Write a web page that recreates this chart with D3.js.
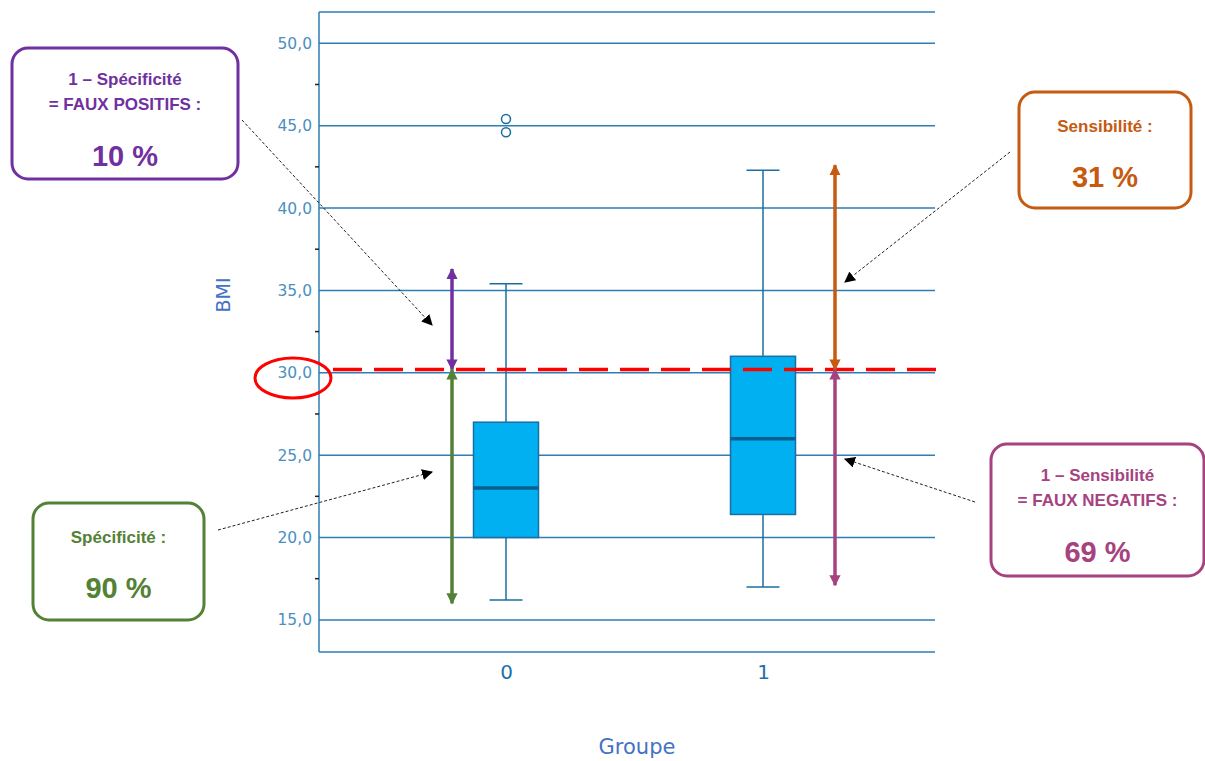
<!DOCTYPE html>
<html><head><meta charset="utf-8">
<script src="https://cdn.jsdelivr.net/npm/d3@7"></script>
<style>body{margin:0;background:#fff}svg{display:block}</style>
</head><body>
<svg id="c" width="1205" height="761"></svg>
<script>
const categories = ["0", "1"];
const whiskerLow = [16.2, 17.0];
const q1 = [20.0, 21.4];
const median = [23.0, 26.0];
const q3 = [27.0, 31.0];
const whiskerHigh = [35.4, 42.3];
const outliers = [[45.4, 44.6], []];
const yTicks = [15, 20, 25, 30, 35, 40, 45, 50];
const yMinor = [17.5, 22.5, 27.5, 32.5, 37.5, 42.5, 47.5];
const threshold = 30.2;
// annotation ranges (BMI values)
const rangeGroup = ["0", "0", "1", "1"];
const rangeFrom = [30.2, 30.2, 30.2, 30.2];
const rangeTo = [36.3, 16.0, 42.6, 17.1];
const rangeColor = ["#7030a0", "#538135", "#c55a11", "#a6427f"];
const boxLine1 = ["1 – Spécificité", "Spécificité :", "Sensibilité :", "1 – Sensibilité"];
const boxLine2 = ["= FAUX POSITIFS :", "", "", "= FAUX NEGATIFS :"];
const boxPct = ["10 %", "90 %", "31 %", "69 %"];

(function () {
const svg = d3.select("#c");
const pL = 319, pR = 935, pT = 12, pB = 652;
const y = d3.scaleLinear().domain([13.05, 51.9]).range([pB, pT]);
const x = d3.scalePoint().domain(categories).range([506, 763]);
const gridColor = "#2e7db3";

// grid lines
svg.append("g").selectAll("line").data(yTicks).join("line")
  .attr("x1", pL).attr("x2", pR).attr("y1", d => y(d)).attr("y2", d => y(d))
  .attr("stroke", gridColor).attr("stroke-width", 1.5);
[pT, pB].forEach(v => svg.append("line").attr("x1", pL).attr("x2", pR)
  .attr("y1", v).attr("y2", v).attr("stroke", gridColor).attr("stroke-width", 1.5));
// y axis
const yAxis = svg.append("g").attr("transform", `translate(${pL},0)`)
  .call(d3.axisLeft(y).tickValues(yTicks).tickSize(0).tickPadding(7)
    .tickFormat(d => d3.format(".1f")(d).replace(".", ",")));
yAxis.select(".domain").attr("stroke", gridColor).attr("stroke-width", 1.5).attr("d", `M0,${pT}V${pB}`);
yAxis.selectAll("text").attr("fill", "#4a8fc2").attr("font-family", "DejaVu Sans, sans-serif").attr("font-size", 15.5);
svg.append("g").selectAll("line").data(yMinor).join("line")
  .attr("x1", pL - 4).attr("x2", pL).attr("y1", d => y(d)).attr("y2", d => y(d))
  .attr("stroke", "#222").attr("stroke-width", 1.5);
// x axis labels
const xAxis = svg.append("g").attr("transform", `translate(0,${pB})`)
  .call(d3.axisBottom(x).tickSize(0).tickPadding(13));
xAxis.select(".domain").remove();
xAxis.selectAll("text").attr("fill", "#1f6fa8").attr("font-family", "DejaVu Sans, sans-serif").attr("font-size", 20);

svg.append("text").attr("x", 637).attr("y", 754).attr("text-anchor", "middle")
  .attr("fill", "#4472c4").attr("font-family", "DejaVu Sans, sans-serif").attr("font-size", 21).text("Groupe");
svg.append("text").attr("transform", "translate(230,295) rotate(-90)").attr("text-anchor", "middle")
  .attr("fill", "#4472c4").attr("font-family", "DejaVu Sans, sans-serif").attr("font-size", 19).text("BMI");

// boxplots
const bw = 65, cw = 33;
const boxC = "#1b6ea3";
categories.forEach((c, i) => {
  const cx = x(c);
  const g = svg.append("g");
  g.append("line").attr("x1", cx).attr("x2", cx).attr("y1", y(whiskerLow[i])).attr("y2", y(whiskerHigh[i]))
    .attr("stroke", boxC).attr("stroke-width", 1.5);
  [whiskerLow[i], whiskerHigh[i]].forEach(v => g.append("line")
    .attr("x1", cx - cw / 2).attr("x2", cx + cw / 2).attr("y1", y(v)).attr("y2", y(v))
    .attr("stroke", boxC).attr("stroke-width", 1.5));
  g.append("rect").attr("x", cx - bw / 2).attr("y", y(q3[i])).attr("width", bw)
    .attr("height", y(q1[i]) - y(q3[i])).attr("fill", "#00b0f0").attr("stroke", boxC).attr("stroke-width", 1.5);
  g.append("line").attr("x1", cx - bw / 2).attr("x2", cx + bw / 2).attr("y1", y(median[i])).attr("y2", y(median[i]))
    .attr("stroke", "#0a5f8f").attr("stroke-width", 3.5);
  g.selectAll("circle").data(outliers[i]).join("circle")
    .attr("cx", cx).attr("cy", d => y(d)).attr("r", 4.5)
    .attr("fill", "none").attr("stroke", boxC).attr("stroke-width", 1.5);
});

// threshold
svg.append("line").attr("x1", 333).attr("x2", 942).attr("y1", y(threshold)).attr("y2", y(threshold))
  .attr("stroke", "#ff0000").attr("stroke-width", 3.5).attr("stroke-dasharray", "29,12");
svg.append("ellipse").attr("cx", 293).attr("cy", 378).attr("rx", 38).attr("ry", 20)
  .attr("fill", "none").attr("stroke", "#ff0000").attr("stroke-width", 3);

// range arrows
const defs = svg.append("defs");
rangeColor.forEach((col, i) => {
  defs.append("marker").attr("id", "m" + i).attr("viewBox", "0 0 10 10").attr("refX", 9).attr("refY", 5)
    .attr("markerWidth", 3.2).attr("markerHeight", 3.2).attr("orient", "auto-start-reverse")
    .append("path").attr("d", "M0,0L10,5L0,10z").attr("fill", col);
});
defs.append("marker").attr("id", "mk").attr("viewBox", "0 0 10 10").attr("refX", 9).attr("refY", 5)
  .attr("markerWidth", 11).attr("markerHeight", 11).attr("markerUnits", "userSpaceOnUse").attr("orient", "auto")
  .append("path").attr("d", "M0,0L10,5L0,10z").attr("fill", "#000");
const arrowX = { "0": 452, "1": 835 };
rangeGroup.forEach((gname, i) => {
  svg.append("line").attr("x1", arrowX[gname]).attr("x2", arrowX[gname])
    .attr("y1", y(rangeFrom[i])).attr("y2", y(rangeTo[i]))
    .attr("stroke", rangeColor[i]).attr("stroke-width", 3.5)
    .attr("marker-start", `url(#m${i})`).attr("marker-end", `url(#m${i})`);
});

// annotation boxes
const boxRect = [[12, 48, 226, 131], [33, 503, 171, 117], [1019, 92, 172, 116], [991, 444, 213, 132]];
const pointer = [[242, 120, 432, 325], [218, 530, 432, 472], [1010, 152, 845, 282], [975, 502, 845, 459]];
boxRect.forEach((r, i) => {
  const [bx, by, w, h] = r;
  const cx = bx + w / 2;
  const col = rangeColor[i];
  svg.append("rect").attr("x", bx).attr("y", by).attr("width", w).attr("height", h)
    .attr("rx", 16).attr("fill", "#fff").attr("stroke", col).attr("stroke-width", 3);
  const two = boxLine2[i] !== "";
  const t = svg.append("g").attr("fill", col).attr("font-family", "Liberation Sans, Arial, sans-serif")
    .attr("font-weight", "bold").attr("text-anchor", "middle");
  t.append("text").attr("x", cx).attr("y", by + (two ? 37 : 40)).attr("font-size", 17).text(boxLine1[i]);
  if (two) t.append("text").attr("x", cx).attr("y", by + 62).attr("font-size", 17).text(boxLine2[i]);
  t.append("text").attr("x", cx).attr("y", by + (two ? 118 : 95)).attr("font-size", 29).text(boxPct[i]);
  const p = pointer[i];
  svg.append("line").attr("x1", p[0]).attr("y1", p[1]).attr("x2", p[2]).attr("y2", p[3])
    .attr("stroke", "#222").attr("stroke-width", 1).attr("stroke-dasharray", "3,2").attr("marker-end", "url(#mk)");
});
})();
</script>
</body></html>
